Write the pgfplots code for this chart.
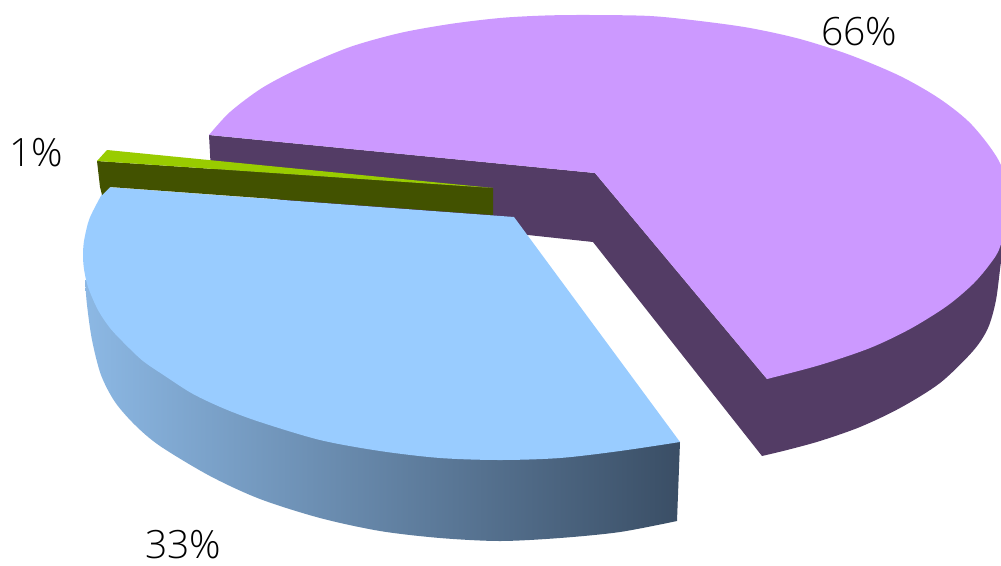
\documentclass[border=0pt]{standalone}
\usepackage{pgfplots}
\pgfplotsset{compat=1.18}
\usepackage{fontspec}
\setmainfont{Open Sans Light}
\definecolor{purpletop}{HTML}{CC99FF}
\definecolor{purpleside}{HTML}{533C65}
\definecolor{bluetop}{HTML}{99CCFF}
\definecolor{blueL}{HTML}{8CB8E4}
\definecolor{blueR}{HTML}{3A4E65}
\definecolor{greentop}{HTML}{99CC00}
\definecolor{greenside}{HTML}{425200}
\begin{document}
\begin{tikzpicture}
\begin{axis}[
  scale only axis, width=1001pt, height=565pt,
  xmin=0, xmax=1001, ymin=0, ymax=565, y dir=reverse,
  hide axis, enlargelimits=false, no markers,
  every axis plot/.append style={draw=none, line width=0pt}
]
\path (axis cs:0,0) rectangle (axis cs:1001,565);
% purple side: outer rim, then the straight cut faces
\addplot[smooth, fill=purpleside] coordinates {
 (1006,236) (1001,262) (996,300) (988,328) (973,351) (940,383) (900,408) (860,427) (820,441) (787,450) (762,456)}
 -- (axis cs:593,242) -- (axis cs:528,235) -- (axis cs:212,190) -- (axis cs:209,135) -- (axis cs:595,173) -- (axis cs:767,379) -- cycle;
% purple top
\addplot[smooth, fill=purpletop] coordinates {
 (209,135) (230,112) (262,88) (300,68) (350,47) (400,33) (450,24) (500,18) (545,15.5) (590,15)
 (650,16) (700,21) (750,28) (800,39) (850,55) (900,76) (940,99) (972,125) (1000,163) (1010,205)
 (1000,247) (990,264) (973,284) (947,306) (910,329) (870,348) (820,365) (767,379)}
 -- (axis cs:595,173) -- cycle;
% blue side
\addplot[smooth, left color=blueL, right color=blueR] coordinates {
 (85,280) (87,305) (92,340) (101,375) (115,402) (135,425) (160,446) (210,476) (260,499) (320,518)
 (380,531) (440,538) (500,541) (560,538) (620,532) (677,521)}
 -- (axis cs:680,442) -- cycle;
% blue top
\addplot[smooth, fill=bluetop] coordinates {
 (107,187) (102,194) (92,213) (88,223) (84,241) (83,255) (84,269) (88,287) (98,310) (110,328) (125,344)
 (143,361) (165,376) (193,394) (225,409) (260,422) (320,440) (380,451) (440,458) (500,460) (560,458) (620,451) (680,442)}
 -- (axis cs:514,217) -- cycle;
% green side
\addplot[sharp plot, fill=greenside] coordinates {
 (97,161) (493,188) (493,215) (110,187) (102,195) (100,187)} --cycle;
% green top
\addplot[sharp plot, fill=greentop] coordinates {(97,161) (107,150) (493,188)} --cycle;
\node[inner sep=0pt, font=\fontsize{39}{39}\selectfont, text=black] at (axis cs:859,32) {66\%};
\node[inner sep=0pt, font=\fontsize{39}{39}\selectfont, text=black] at (axis cs:36,153) {1\%};
\node[inner sep=0pt, font=\fontsize{39}{39}\selectfont, text=black] at (axis cs:183,544.5) {33\%};
\end{axis}
\end{tikzpicture}
\end{document}
